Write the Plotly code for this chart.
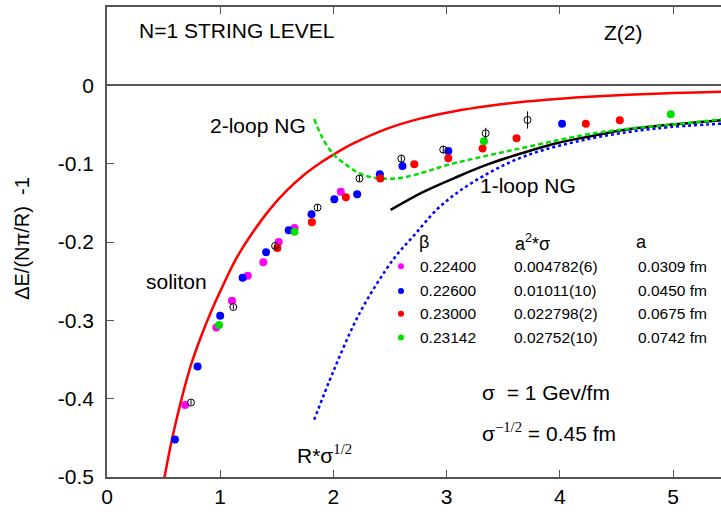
import plotly.graph_objects as go

# ---------------- data ----------------
# lattice data: x = R*sigma^1/2, y = dE/(N pi/R) - 1
mag_x = [0.69, 0.966, 1.104, 1.243, 1.381, 1.517, 1.657, 2.065]
mag_y = [-0.408, -0.309, -0.275, -0.243, -0.226, -0.200, -0.182, -0.136]

blu_x = [0.60, 0.80, 1.00, 1.198, 1.405, 1.605, 1.807, 2.008, 2.21, 2.41, 2.61, 3.015, 4.02]
blu_y = [-0.452, -0.359, -0.294, -0.2456, -0.213, -0.185, -0.1645, -0.1454, -0.139, -0.1135, -0.103, -0.0838, -0.049]

red_x = [1.505, 1.81, 2.11, 2.415, 2.715, 3.015, 3.318, 3.618, 4.23, 4.53]
red_y = [-0.2075, -0.1747, -0.143, -0.119, -0.1008, -0.093, -0.0805, -0.0674, -0.049, -0.0446]

grn_x = [0.99, 1.657, 3.33, 4.98]
grn_y = [-0.306, -0.187, -0.0714, -0.037]

opn_x = [0.742, 1.116, 1.485, 1.86, 2.23, 2.60, 2.97, 3.345, 3.715]
opn_y = [-0.405, -0.283, -0.205, -0.156, -0.119, -0.0935, -0.082, -0.0612, -0.0442]
opn_e = [0.003, 0.003, 0.003, 0.004, 0.004, 0.005, 0.005, 0.007, 0.011]

# theory curves
sol_x = [0.49, 0.512, 0.577, 0.654, 0.742, 0.83, 0.92, 1.0, 1.146, 1.293, 1.44, 1.587, 1.734, 1.88, 2.0,
         2.176, 2.47, 2.765, 3.06, 3.4, 3.7, 4.0, 4.3, 4.6, 4.9, 5.2, 5.45]
sol_y = [-0.5135, -0.497, -0.450, -0.403, -0.357, -0.321, -0.2886, -0.263, -0.220, -0.1865, -0.158, -0.1345,
         -0.115, -0.0995, -0.0885, -0.0742, -0.0555, -0.0425, -0.0333, -0.0258, -0.0207, -0.0170, -0.0142,
         -0.0121, -0.0104, -0.0090, -0.0080]

ng2_x = [1.83, 1.9, 2.0, 2.1, 2.2, 2.3, 2.42, 2.6, 2.8, 3.0, 3.38, 3.7, 4.0, 4.27, 4.6, 5.0, 5.45]
ng2_y = [-0.043, -0.066, -0.088, -0.100, -0.110, -0.116, -0.119, -0.118, -0.111, -0.102, -0.089, -0.079,
         -0.0695, -0.062, -0.0555, -0.050, -0.043]

ng1_x = [2.505, 2.795, 3.09, 3.38, 3.68, 3.97, 4.27, 4.56, 4.855, 5.45]
ng1_y = [-0.159, -0.136, -0.117, -0.100, -0.086, -0.074, -0.065, -0.057, -0.052, -0.0443]

rs_x = [1.83, 2.0, 2.235, 2.53, 2.71, 2.94, 3.24, 3.68, 4.27, 4.855, 5.45]
rs_y = [-0.427, -0.365, -0.29, -0.222, -0.192, -0.155, -0.123, -0.091, -0.068, -0.055, -0.0488]

# legend table
beta_labels = ["0.22400", "0.22600", "0.23000", "0.23142"]
a2s_labels = ["0.004782(6)", "0.01011(10)", "0.022798(2)", "0.02752(10)"]
a_labels = ["0.0309 fm", "0.0450 fm", "0.0675 fm", "0.0742 fm"]

x_ticks = [0, 1, 2, 3, 4, 5]
y_ticks = [0.1, 0, -0.1, -0.2, -0.3, -0.4, -0.5]
y_tick_text = ["0.1", "0", "-0.1", "-0.2", "-0.3", "-0.4", "-0.5"]

# ---------------- style ----------------
MAG = "#ff00ff"
BLU = "#0000ff"
RED = "#ff0000"
GRN = "#00e000"
FONT = "Liberation Sans, Arial, sans-serif"
MS = 8

fig = go.Figure()

fig.add_trace(go.Scatter(x=sol_x, y=sol_y, mode="lines", line=dict(color=RED, width=2.5, shape="spline"),
                         hoverinfo="skip"))
fig.add_trace(go.Scatter(x=rs_x, y=rs_y, mode="lines",
                         line=dict(color=BLU, width=2.5, dash="dot", shape="spline"), hoverinfo="skip"))
fig.add_trace(go.Scatter(x=ng1_x, y=ng1_y, mode="lines", line=dict(color="black", width=2.5, shape="spline"),
                         hoverinfo="skip"))
fig.add_trace(go.Scatter(x=ng2_x, y=ng2_y, mode="lines",
                         line=dict(color=GRN, width=2.5, dash="5px,3px", shape="spline"), hoverinfo="skip"))

for xs, ys, c in [(mag_x, mag_y, MAG), (blu_x, blu_y, BLU), (red_x, red_y, RED), (grn_x, grn_y, GRN)]:
    fig.add_trace(go.Scatter(x=xs, y=ys, mode="markers", marker=dict(color=c, size=MS, line=dict(width=0))))

fig.add_trace(go.Scatter(x=opn_x, y=opn_y, mode="markers",
                         marker=dict(symbol="circle-open", color="black", size=7, line=dict(width=1)),
                         error_y=dict(type="data", array=opn_e, color="black", thickness=1, width=0)))

# legend-table markers
tab_mx = 2.597
row_y = [-0.2309, -0.2624, -0.2917, -0.3218]
fig.add_trace(go.Scatter(x=[tab_mx] * 4, y=row_y, mode="markers",
                         marker=dict(color=[MAG, BLU, RED, GRN], size=6)))

ann = []
def txt(x, y, s, size=21, xanchor="center", font=FONT):
    ann.append(dict(x=x, y=y, text=s, showarrow=False, xanchor=xanchor, yanchor="middle",
                    font=dict(family=font, size=size, color="black")))

txt(1.148, 0.070, "N=1 STRING LEVEL")
txt(4.567, 0.068, "Z(2)")
txt(1.778, -0.051, "2-loop NG", xanchor="right")
txt(3.722, -0.1276, "1-loop NG")
txt(0.616, -0.251, "soliton")
txt(1.661, -0.470, "R*σ<sup><span style='font-family:Liberation Serif'>1/2</span></sup>", xanchor="left")

txt(2.80, -0.2003, "β", size=18)
txt(3.761, -0.2003, "a<sup>2</sup>*σ", size=18)
txt(4.724, -0.2003, "a", size=18)
for i in range(4):
    txt(2.750, row_y[i], beta_labels[i], size=15.5, xanchor="left")
    txt(3.575, row_y[i], a2s_labels[i], size=15.5, xanchor="left")
    txt(4.673, row_y[i], a_labels[i], size=15.5, xanchor="left")

txt(3.295, -0.3925, "σ  = 1 Gev/fm", xanchor="left")
txt(3.295, -0.4422, "σ<sup><span style='font-family:Liberation Serif'>−1/2</span></sup> = 0.45 fm", xanchor="left")

ann.append(dict(x=0, y=-0.196, xref="paper", yref="y", xshift=-85, text="ΔE/(Nπ/R)&nbsp;&nbsp;-1",
                textangle=-90, showarrow=False, xanchor="center", yanchor="middle",
                font=dict(family=FONT, size=20, color="black")))

AX = "#555555"
fig.update_layout(
    width=721, height=514,
    margin=dict(l=107, r=0, t=7, b=37),
    paper_bgcolor="white", plot_bgcolor="white",
    showlegend=False,
    annotations=ann,
    xaxis=dict(range=[0, 5.424], tickvals=x_ticks, ticks="inside", ticklen=7, tickcolor=AX, tickwidth=1.2,
               showline=True, linecolor=AX, linewidth=1.5, mirror="ticks", showgrid=False, zeroline=False,
               tickfont=dict(family=FONT, size=21, color="black")),
    yaxis=dict(range=[-0.5, 0.1], tickvals=y_ticks, ticktext=y_tick_text, ticks="inside", ticklen=7,
               tickcolor=AX, tickwidth=1.2, showline=True, linecolor=AX, linewidth=1.5, mirror=False,
               showgrid=False, zeroline=True, zerolinecolor=AX, zerolinewidth=1.5,
               ticklabelstandoff=7, tickfont=dict(family=FONT, size=21, color="black")),
)

fig.write_html("out.html", config={"displayModeBar": False},
               post_script="document.body.style.margin='0';document.body.style.overflow='hidden';")
